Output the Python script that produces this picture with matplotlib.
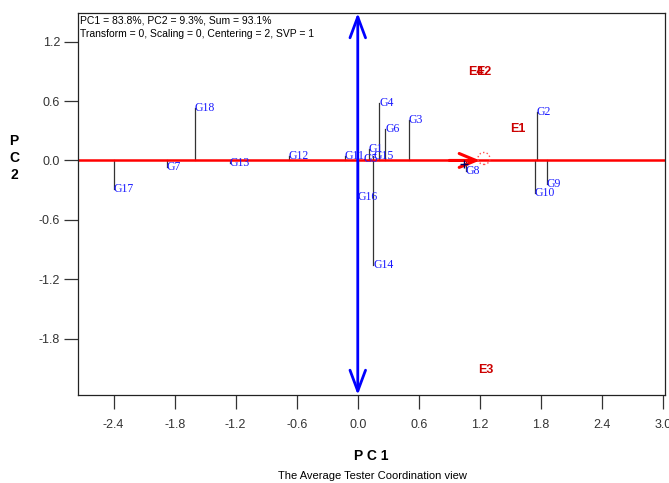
import matplotlib
matplotlib.use("Agg")
import matplotlib.pyplot as plt
from matplotlib.patches import Ellipse

# Genotype scores (PC1, PC2)
genotypes = ["G1", "G2", "G3", "G4", "G5", "G6", "G7", "G8", "G9", "G10",
             "G11", "G12", "G13", "G14", "G15", "G16", "G17", "G18"]
g_pc1 = [0.11, 1.76, 0.50, 0.21, 0.06, 0.27, -1.88, 1.06, 1.86, 1.74,
         -0.13, -0.68, -1.26, 0.15, 0.15, 0.00, -2.40, -1.60]
g_pc2 = [0.12, 0.49, 0.41, 0.58, 0.01, 0.32, -0.07, -0.11, -0.235, -0.33,
         0.04, 0.045, -0.03, -1.06, 0.04, -0.365, -0.29, 0.535]

# Environment scores
environments = ["E1", "E2", "E3", "E4"]
e_pc1 = [1.50, 1.16, 1.18, 1.08]
e_pc2 = [0.32, 0.89, -2.12, 0.89]

# Average environment
avg_env = (1.24, 0.02)

xticks = [-2.4, -1.8, -1.2, -0.6, 0.0, 0.6, 1.2, 1.8, 2.4, 3.0]
yticks = [-1.8, -1.2, -0.6, 0.0, 0.6, 1.2]
xlim = (-2.75, 3.02)
ylim = (-2.37, 1.49)

info1 = "PC1 = 83.8%, PC2 = 9.3%, Sum = 93.1%"
info2 = "Transform = 0, Scaling = 0, Centering = 2, SVP = 1"
caption = "The Average Tester Coordination view"

W, H = 669, 483
fig = plt.figure(figsize=(W / 100, H / 100), dpi=100)
ax = fig.add_axes([78 / W, (H - 395) / H, (665 - 78) / W, (395 - 13) / H])
ax.set_xlim(*xlim)
ax.set_ylim(*ylim)

sans = ["Liberation Sans", "DejaVu Sans"]
serif = ["Liberation Serif", "DejaVu Serif"]

# ATC abscissa (red) across the plot
ax.axhline(0, color="#ff0000", lw=1.8, zorder=2)
ax.annotate("", xy=(1.2, 0.0), xytext=(0.9, 0.0),
            arrowprops=dict(arrowstyle="->,head_length=0.6,head_width=0.25",
                            color="#ff0000", lw=2.2, mutation_scale=20,
                            shrinkA=0, shrinkB=0),
            zorder=4)
ax.add_patch(Ellipse(avg_env, 12 / 101.3, 12 / 99.1, fill=False,
                     ec="#ff5050", ls=":", lw=1.0, zorder=4))

# ATC ordinate (blue) with arrows at both ends
ax.annotate("", xy=(0, ylim[1]), xytext=(0, ylim[0]),
            arrowprops=dict(arrowstyle="<->,head_length=0.75,head_width=0.28",
                            color="#0000ff", lw=2, mutation_scale=20,
                            shrinkA=0, shrinkB=0),
            zorder=3)

# projection lines and genotype labels
for name, x, y in zip(genotypes, g_pc1, g_pc2):
    ax.plot([x, x], [0, y], color="#333333", lw=0.9, zorder=1)
    ax.text(x, y, name, color="#1a1aff", fontsize=8.5, family=serif,
            ha="left", va="center", zorder=5)

ax.plot([1.04], [-0.04], marker="+", color="#000066", ms=6, mew=1, zorder=5)

# environment labels
for name, x, y in zip(environments, e_pc1, e_pc2):
    ax.text(x, y, name, color="#cc0000", fontsize=9, family=sans,
            fontweight="bold", ha="left", va="center", zorder=5)

ax.set_xticks(xticks)
ax.set_yticks(yticks)
ax.set_xticklabels([f"{t:.1f}" for t in xticks])
ax.set_yticklabels([f"{t:.1f}" for t in yticks])
ax.tick_params(direction="out", length=10, width=0.9, colors="#333333",
               labelsize=9)
ax.tick_params(axis="x", pad=7)
ax.tick_params(axis="y", pad=3)
for lab in ax.get_xticklabels() + ax.get_yticklabels():
    lab.set_family(sans)
for sp in ax.spines.values():
    sp.set_linewidth(0.9)
    sp.set_color("#222222")

ax.text(0.004, 1 - (20.5 - 13) / (395 - 13), info1,
        transform=ax.transAxes, fontsize=7.5, family=sans, ha="left",
        va="center")
ax.text(0.004, 1 - (34.3 - 13) / (395 - 13), info2,
        transform=ax.transAxes, fontsize=7.5, family=sans, ha="left",
        va="center")

fig.text(371.5 / W, 1 - 456 / H, "P C 1", fontsize=10, fontweight="bold",
         family=sans, ha="center", va="center")
fig.text(372 / W, 1 - 476 / H, caption, fontsize=8, family=sans,
         ha="center", va="center")
for i, ch in enumerate(["P", "C", "2"]):
    fig.text(14 / W, 1 - (141 + i * 17) / H, ch, fontsize=10,
             fontweight="bold", family=sans, ha="center", va="center")

fig.savefig("out.png", dpi=100)
